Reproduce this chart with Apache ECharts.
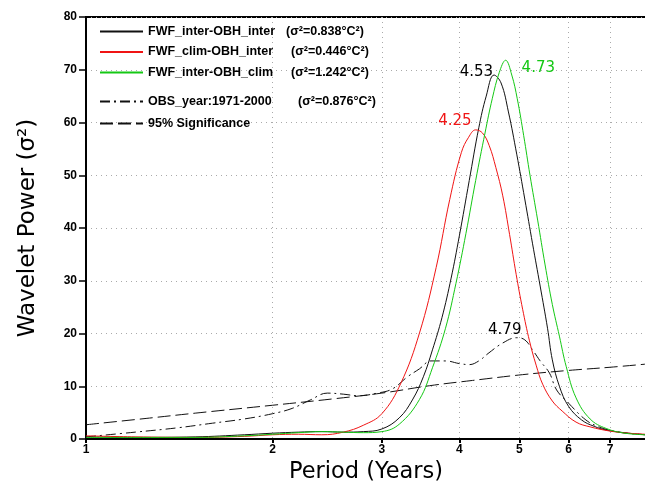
<!DOCTYPE html>
<html>
<head>
<meta charset="utf-8">
<script src="https://cdn.jsdelivr.net/npm/echarts@6/dist/echarts.min.js"></script>
<style>
  html, body { margin: 0; padding: 0; background: #fff; }
  #chart { width: 645px; height: 487px; }
</style>
</head>
<body>
<div id="chart"></div>
<script>
// axis ticks
const periodTicks = [1, 2, 3, 4, 5, 6, 7];

// series names / variances
const seriesNames = ['FWF_inter-OBH_inter', 'FWF_clim-OBH_inter', 'FWF_inter-OBH_clim', 'OBS_year:1971-2000', '95% Significance'];
const sigmaVals = ['0.838', '0.446', '1.242', '0.876'];

// FWF_inter-OBH_inter (black)
const blackPeriods = [1.0, 1.2, 1.5, 1.8, 2.0, 2.2, 2.4, 2.6, 2.8, 3.0, 3.2, 3.36, 3.5, 3.62, 3.75, 3.88, 4.0, 4.15, 4.3, 4.42, 4.55, 4.67, 4.8, 4.95, 5.1, 5.25, 5.4, 5.55, 5.65, 5.8, 6.0, 6.3, 6.6, 6.9, 7.5, 8.0];
const blackPower = [0.4, 0.3, 0.4, 0.8, 1.1, 1.3, 1.4, 1.3, 1.4, 1.9, 4.0, 7.4, 11.8, 16.9, 23, 30.5, 38.5, 49, 59, 65, 69, 67.5, 62, 54, 45.5, 37, 29, 21, 15, 10, 6.2, 3.6, 2.4, 1.7, 1.1, 0.8];

// FWF_clim-OBH_inter (red)
const redPeriods = [1.0, 1.2, 1.5, 1.8, 2.0, 2.2, 2.4, 2.6, 2.8, 3.0, 3.22, 3.45, 3.67, 3.86, 4.03, 4.14, 4.25, 4.36, 4.47, 4.58, 4.7, 4.82, 4.94, 5.06, 5.19, 5.32, 5.45, 5.65, 5.86, 6.17, 6.5, 7.0, 7.5, 8.0];
const redPower = [0.6, 0.4, 0.3, 0.5, 0.8, 0.9, 0.8, 1.3, 2.6, 4.8, 10.6, 20.1, 32.5, 45.4, 54.3, 57.2, 58.6, 58.0, 55.6, 51.5, 46.1, 38.8, 31.2, 24.6, 18.6, 14, 10.4, 7.2, 5.3, 3.2, 2.3, 1.5, 1.1, 0.9];

// FWF_inter-OBH_clim (green)
const greenPeriods = [1.0, 1.5, 1.8, 2.0, 2.2, 2.4, 2.6, 2.8, 3.0, 3.2, 3.45, 3.62, 3.8, 3.95, 4.1, 4.25, 4.4, 4.52, 4.64, 4.75, 4.86, 4.96, 5.08, 5.2, 5.35, 5.5, 5.65, 5.8, 5.95, 6.17, 6.5, 6.9, 7.4, 8.0];
const greenPower = [0.3, 0.3, 0.6, 0.9, 1.2, 1.4, 1.3, 1.2, 1.4, 2.8, 7.5, 13.5, 21, 29.5, 39, 49, 58, 64.5, 69.5, 71.8, 69, 64.5, 57.5, 50, 41.5, 33, 25.5, 19.5, 13.7, 7.8, 3.8, 2.0, 1.1, 0.8];

// OBS_year:1971-2000 (dash-dot)
const obsPeriods = [1.0, 1.2, 1.4, 1.6, 1.8, 2.0, 2.15, 2.3, 2.45, 2.6, 2.75, 2.95, 3.12, 3.3, 3.45, 3.6, 3.8, 4.0, 4.15, 4.3, 4.45, 4.7, 4.95, 5.1, 5.25, 5.4, 5.59, 5.74, 6.0, 6.4, 6.72, 7.15, 7.6, 8.0];
const obsPower = [0.4, 1.3, 2.1, 3.0, 3.8, 4.8, 5.8, 7.4, 8.7, 8.5, 8.2, 8.7, 9.5, 11.8, 13.3, 14.8, 14.8, 14.3, 14.1, 14.8, 16.2, 18.2, 19.2, 18.8, 16.9, 14.8, 12.5, 9.3, 6.8, 3.6, 2.3, 1.4, 1.0, 0.8];

// 95% significance (dashed)
const sigPeriods = [1, 1.25, 1.5, 2, 2.5, 3, 3.58, 4.2, 5.06, 6, 7, 8];
const sigPower = [2.7, 3.9, 4.9, 6.4, 7.6, 8.7, 10.1, 11.1, 12.2, 13.0, 13.6, 14.2];

// peak annotations (black, red, green, obs)
const peakPeriods = [4.55, 4.25, 4.75, 4.95];
const peakLabels = ['4.53', '4.25', '4.73', '4.79'];

const peakLabelStyle = [
  { position: 'left', distance: 1, offset: [0, -3], color: '#000' },
  { position: 'left', distance: 4, offset: [0, -9], color: '#f01414' },
  { position: 'right', distance: 16, offset: [0, 8], color: '#14c814' },
  { position: 'top', distance: 0, offset: [-12, 0], color: '#000' }
];

function toData(periods, power) {
  return periods.map(function (p, i) { return [Math.log10(p), power[i]]; });
}

// peak label as a markPoint on the series' own peak sample
function peakMark(periods, power, k) {
  const i = periods.indexOf(peakPeriods[k]);
  return {
    symbol: 'circle',
    symbolSize: 0,
    silent: true,
    animation: false,
    label: Object.assign({
      show: true,
      formatter: peakLabels[k],
      fontSize: 15,
      fontFamily: 'DejaVu Sans'
    }, peakLabelStyle[k]),
    data: [{ coord: [Math.log10(periods[i]), power[i]] }]
  };
}

const nameWidths = [138, 143, 143, 150];
function legendFormatter(name) {
  const i = seriesNames.indexOf(name);
  if (i < 4) {
    return '{n' + i + '|' + name + '}{s|(σ²=' + sigmaVals[i] + '°C²)}';
  }
  return '{n4|' + name + '}';
}
const legendFont = { fontFamily: 'Liberation Sans', fontWeight: 'bold', fontSize: 12.5, color: '#000' };
const legendRich = { s: legendFont, n4: legendFont };
nameWidths.forEach(function (w, i) { legendRich['n' + i] = Object.assign({ width: w }, legendFont); });

const tickLogs = periodTicks.map(function (t) { return Math.log10(t); });
const dotted = { color: '#aaa', type: [1, 4], width: 1 };

const legendBase = {
  orient: 'vertical', left: 99, padding: 0,
  itemWidth: 43, itemHeight: 14,
  selectedMode: false,
  itemStyle: { opacity: 0 },
  formatter: legendFormatter,
  textStyle: Object.assign({ rich: legendRich }, legendFont)
};

const chart = echarts.init(document.getElementById('chart'), null, { renderer: 'canvas' });

chart.setOption({
  backgroundColor: '#fff',
  animation: false,
  grid: {
    left: 86, top: 17, right: -1, bottom: 48,
    outerBoundsMode: 'none',
    containLabel: false,
    show: true, borderColor: '#000', borderWidth: 2
  },
  legend: [
    Object.assign({ data: seriesNames.slice(0, 3), top: 25, itemGap: 7.5 }, legendBase),
    Object.assign({ data: seriesNames.slice(3), top: 95, itemGap: 9 }, legendBase)
  ],
  xAxis: {
    type: 'value',
    min: 0,
    max: Math.log10(8),
    name: 'Period (Years)',
    nameLocation: 'middle',
    nameGap: 18,
    nameTextStyle: { fontFamily: 'DejaVu Sans', fontSize: 22.5, color: '#000' },
    axisLine: { lineStyle: { color: '#000', width: 2 } },
    axisTick: { customValues: tickLogs, length: 4, lineStyle: { color: '#000', width: 2 } },
    axisLabel: {
      customValues: tickLogs,
      formatter: function (v) { return String(Math.round(Math.pow(10, v))); },
      color: '#000', fontFamily: 'Liberation Sans', fontWeight: 'bold', fontSize: 12, margin: 5
    },
    splitLine: { show: true, lineStyle: dotted }
  },
  yAxis: {
    type: 'value',
    min: 0,
    max: 80,
    interval: 10,
    name: 'Wavelet Power (σ²)',
    nameLocation: 'middle',
    nameGap: 46,
    nameTextStyle: { fontFamily: 'DejaVu Sans', fontSize: 23, color: '#000' },
    axisLine: { show: true, lineStyle: { color: '#000', width: 2 } },
    axisTick: { show: true, length: 7, lineStyle: { color: '#000', width: 1.5 } },
    axisLabel: { color: '#000', fontFamily: 'Liberation Sans', fontWeight: 'bold', fontSize: 12, margin: 9 },
    splitLine: { show: true, lineStyle: dotted }
  },
  series: [
    {
      name: seriesNames[4], type: 'line', symbol: 'none', smooth: 0.4,
      lineStyle: { color: '#111', width: 1, type: [13, 5] },
      itemStyle: { color: '#111' },
      data: toData(sigPeriods, sigPower)
    },
    {
      name: seriesNames[3], type: 'line', symbol: 'none', smooth: 0.4,
      lineStyle: { color: '#111', width: 1, type: [10, 4, 2, 4] },
      itemStyle: { color: '#111' },
      data: toData(obsPeriods, obsPower),
      markPoint: peakMark(obsPeriods, obsPower, 3)
    },
    {
      name: seriesNames[0], type: 'line', symbol: 'none', smooth: 0.4,
      lineStyle: { color: '#111', width: 1 },
      itemStyle: { color: '#111' },
      data: toData(blackPeriods, blackPower),
      markPoint: peakMark(blackPeriods, blackPower, 0)
    },
    {
      name: seriesNames[1], type: 'line', symbol: 'none', smooth: 0.4,
      lineStyle: { color: '#f01414', width: 1 },
      itemStyle: { color: '#f01414' },
      data: toData(redPeriods, redPower),
      markPoint: peakMark(redPeriods, redPower, 1)
    },
    {
      name: seriesNames[2], type: 'line', symbol: 'none', smooth: 0.4,
      lineStyle: { color: '#14c814', width: 1 },
      itemStyle: { color: '#14c814' },
      data: toData(greenPeriods, greenPower),
      markPoint: peakMark(greenPeriods, greenPower, 2)
    }
  ]
});
</script>
</body>
</html>
